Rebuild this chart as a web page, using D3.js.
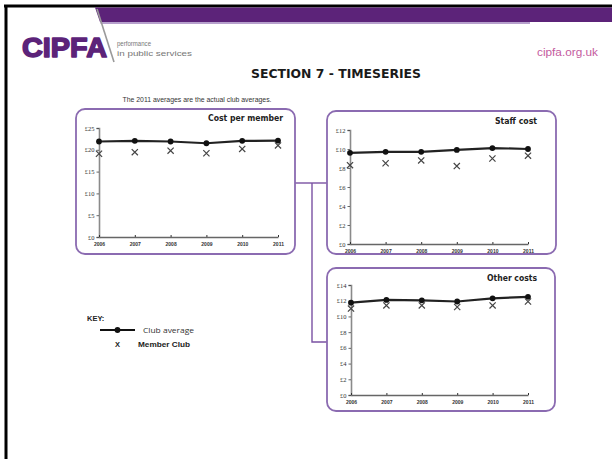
<!DOCTYPE html>
<html>
<head>
<meta charset="utf-8">
<script src="https://cdn.jsdelivr.net/npm/d3@7"></script>
<style>
  html, body { margin: 0; padding: 0; background: #fff; }
  svg { display: block; }
</style>
</head>
<body>
<svg id="page" width="612" height="459"></svg>
<script>
// ---- data ----
const years = [2006, 2007, 2008, 2009, 2010, 2011];
const yearLabels = ["2006", "2007", "2008", "2009", "2010", "2011"];

const costPerMemberAvg  = [21.9, 22.05, 21.9, 21.5, 22.05, 22.1];
const costPerMemberClub = [19.1, 19.45, 19.8, 19.2, 20.2, 21.0];
const costPerMemberTicks = [0, 5, 10, 15, 20, 25];

const staffCostAvg  = [9.6, 9.7, 9.7, 9.9, 10.1, 10.0];
const staffCostClub = [8.3, 8.5, 8.8, 8.2, 9.0, 9.3];
const staffCostTicks = [0, 2, 4, 6, 8, 10, 12];

const otherCostsAvg  = [11.75, 12.1, 12.05, 11.9, 12.3, 12.5];
const otherCostsClub = [11.0, 11.4, 11.4, 11.2, 11.4, 11.9];
const otherCostsTicks = [0, 2, 4, 6, 8, 10, 12, 14];

const panelTitles = ["Cost per member", "Staff cost", "Other costs"];
const legendLabels = ["Club average", "Member Club"];

// ---- colours ----
const PURPLE = "#5c2379";
const FRAME = "#8b6bb1";
const LINK = "#7a52a3";

const svg = d3.select("#page");

// ---- page header ----
// black page edge
svg.append("line").attr("x1", 4).attr("y1", 6).attr("x2", 612).attr("y2", 6)
  .attr("stroke", "#000").attr("stroke-width", 3);
svg.append("line").attr("x1", 6).attr("y1", 5).attr("x2", 6).attr("y2", 459)
  .attr("stroke", "#000").attr("stroke-width", 3);

// purple banner with slanted start
svg.append("polygon")
  .attr("points", "95,7.5 612,7.5 612,22 100,22")
  .attr("fill", PURPLE);
svg.append("polygon")
  .attr("points", "100,22 530,22 530,24 100.7,24")
  .attr("fill", "#b6a0cc");

// logo separator stroke
svg.append("line").attr("x1", 97).attr("y1", 9).attr("x2", 114).attr("y2", 62)
  .attr("stroke", "#9a9a9a").attr("stroke-width", 1.6);

svg.append("text")
  .attr("x", 22).attr("y", 57)
  .attr("font-family", "Liberation Sans, Arial, sans-serif")
  .attr("font-weight", "bold").attr("font-size", 28)
  .attr("textLength", 85).attr("lengthAdjust", "spacingAndGlyphs")
  .attr("fill", PURPLE).attr("stroke", PURPLE).attr("stroke-width", 1.6)
  .attr("stroke-linejoin", "round")
  .text("CIPFA");

svg.append("text")
  .attr("x", 117).attr("y", 46)
  .attr("font-family", "Liberation Sans, Arial, sans-serif")
  .attr("font-size", 7.5).attr("fill", "#777")
  .attr("textLength", 34).attr("lengthAdjust", "spacingAndGlyphs")
  .text("performance");
svg.append("text")
  .attr("x", 117).attr("y", 56)
  .attr("font-family", "Liberation Sans, Arial, sans-serif")
  .attr("font-size", 7.5).attr("fill", "#777")
  .attr("textLength", 75).attr("lengthAdjust", "spacingAndGlyphs")
  .text("in public services");

svg.append("text")
  .attr("x", 537).attr("y", 56)
  .attr("font-family", "Liberation Sans, Arial, sans-serif")
  .attr("font-size", 10.5).attr("fill", "#c45a9e")
  .attr("textLength", 61).attr("lengthAdjust", "spacingAndGlyphs")
  .text("cipfa.org.uk");

svg.append("text")
  .attr("x", 336).attr("y", 78).attr("text-anchor", "middle")
  .attr("font-family", "DejaVu Sans, Verdana, sans-serif")
  .attr("font-weight", "bold").attr("font-size", 11.5).attr("fill", "#1a1a1a")
  .attr("textLength", 170).attr("lengthAdjust", "spacingAndGlyphs")
  .text("SECTION 7 - TIMESERIES");

svg.append("text")
  .attr("x", 197).attr("y", 102).attr("text-anchor", "middle")
  .attr("font-family", "Liberation Sans, Arial, sans-serif")
  .attr("font-size", 6.5).attr("fill", "#333")
  .attr("textLength", 149).attr("lengthAdjust", "spacingAndGlyphs")
  .text("The 2011 averages are the actual club averages.");

// ---- connector lines between panels ----
const links = svg.append("g").attr("fill", "none").attr("stroke", LINK).attr("stroke-width", 1.4);
links.append("path").attr("d", "M295,183 H327");
links.append("path").attr("d", "M312,183 V342 H327");

// ---- panels ----
const panels = [
  { title: panelTitles[0], avg: costPerMemberAvg, club: costPerMemberClub, ticks: costPerMemberTicks,
    box: { x: 76, y: 109, w: 219, h: 145 }, plot: { x0: 99, x1: 278, yb: 237, yt: 128 }, titleX: 283, titleY: 121, titleW: 75 },
  { title: panelTitles[1], avg: staffCostAvg, club: staffCostClub, ticks: staffCostTicks,
    box: { x: 327, y: 111, w: 229, h: 143 }, plot: { x0: 350, x1: 528, yb: 244, yt: 130 }, titleX: 537, titleY: 124, titleW: 42 },
  { title: panelTitles[2], avg: otherCostsAvg, club: otherCostsClub, ticks: otherCostsTicks,
    box: { x: 327, y: 268, w: 228, h: 143 }, plot: { x0: 351, x1: 528, yb: 395, yt: 285 }, titleX: 537, titleY: 281, titleW: 50 }
];

panels.forEach(p => {
  const g = svg.append("g");

  g.append("rect")
    .attr("x", p.box.x).attr("y", p.box.y).attr("width", p.box.w).attr("height", p.box.h)
    .attr("rx", 9).attr("ry", 9)
    .attr("fill", "#fff").attr("stroke", FRAME).attr("stroke-width", 1.8);

  g.append("text")
    .attr("x", p.titleX).attr("y", p.titleY).attr("text-anchor", "end")
    .attr("font-family", "DejaVu Sans, Verdana, sans-serif")
    .attr("font-weight", "bold").attr("font-size", 8).attr("fill", "#222")
    .attr("textLength", p.titleW).attr("lengthAdjust", "spacingAndGlyphs")
    .text(p.title);

  const x = d3.scalePoint().domain(years).range([p.plot.x0, p.plot.x1]);
  const y = d3.scaleLinear().domain([0, d3.max(p.ticks)]).range([p.plot.yb, p.plot.yt]);

  // y axis
  const ya = g.append("g")
    .attr("transform", `translate(${p.plot.x0},0)`)
    .call(d3.axisLeft(y).tickValues(p.ticks).tickFormat(d => "£" + d).tickSize(2.5).tickPadding(2));
  ya.select(".domain").attr("stroke", "#8a8a8a").attr("stroke-width", 1.6);
  ya.selectAll(".tick line").attr("stroke", "#444").attr("stroke-width", 0.8);
  ya.selectAll(".tick text")
    .attr("font-family", "Liberation Serif, serif").attr("font-size", 6.5).attr("fill", "#333");

  // x axis
  const xa = g.append("g")
    .attr("transform", `translate(0,${p.plot.yb})`)
    .call(d3.axisBottom(x).tickFormat((d, i) => yearLabels[i]).tickSizeInner(-2).tickSizeOuter(0).tickPadding(5));
  xa.select(".domain").attr("stroke", "#666").attr("stroke-width", 1.4);
  xa.selectAll(".tick line").attr("stroke", "#333").attr("stroke-width", 1);
  xa.selectAll(".tick text")
    .attr("font-family", "Liberation Sans Narrow, Liberation Sans, sans-serif")
    .attr("font-weight", "bold").attr("font-size", 5).attr("fill", "#333");

  // club average line with dots
  const line = d3.line().x((d, i) => x(years[i])).y(d => y(d));
  g.append("path").datum(p.avg)
    .attr("d", line).attr("fill", "none").attr("stroke", "#222").attr("stroke-width", 2.2);
  g.selectAll("circle.avg").data(p.avg).join("circle")
    .attr("class", "avg")
    .attr("cx", (d, i) => x(years[i])).attr("cy", d => y(d)).attr("r", 2.9)
    .attr("fill", "#111");

  // member club crosses
  const s = 3.1;
  g.selectAll("path.club").data(p.club).join("path")
    .attr("class", "club")
    .attr("d", (d, i) => {
      const cx = x(years[i]), cy = y(d);
      return `M${cx - s},${cy - s}L${cx + s},${cy + s}M${cx - s},${cy + s}L${cx + s},${cy - s}`;
    })
    .attr("fill", "none").attr("stroke", "#444").attr("stroke-width", 1.2);
});

// ---- key ----
const key = svg.append("g");
key.append("text")
  .attr("x", 87).attr("y", 321)
  .attr("font-family", "Liberation Sans, Arial, sans-serif")
  .attr("font-weight", "bold").attr("font-size", 7.5).attr("fill", "#222")
  .text("KEY:");
key.append("line").attr("x1", 100).attr("y1", 330).attr("x2", 135).attr("y2", 330)
  .attr("stroke", "#111").attr("stroke-width", 2.2);
key.append("circle").attr("cx", 117.5).attr("cy", 330).attr("r", 2.9).attr("fill", "#111");
key.append("text")
  .attr("x", 143).attr("y", 333)
  .attr("font-family", "Open Sans, Liberation Sans, sans-serif")
  .attr("font-size", 8).attr("fill", "#333")
  .attr("textLength", 51).attr("lengthAdjust", "spacingAndGlyphs")
  .text(legendLabels[0]);
key.append("text")
  .attr("x", 117.5).attr("y", 347).attr("text-anchor", "middle")
  .attr("font-family", "Liberation Sans, Arial, sans-serif")
  .attr("font-weight", "bold").attr("font-size", 7.5).attr("fill", "#222")
  .text("X");
key.append("text")
  .attr("x", 138).attr("y", 347)
  .attr("font-family", "Liberation Sans, Arial, sans-serif")
  .attr("font-weight", "bold").attr("font-size", 7).attr("fill", "#222")
  .attr("textLength", 52).attr("lengthAdjust", "spacingAndGlyphs")
  .text(legendLabels[1]);
</script>
</body>
</html>
